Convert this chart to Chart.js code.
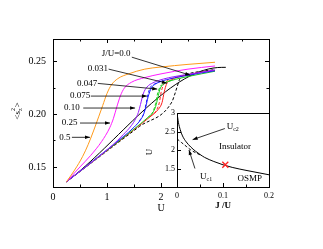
<!DOCTYPE html>
<html><head><meta charset="utf-8">
<script src="https://cdn.jsdelivr.net/npm/chart.js@4"></script>
<style>
html,body{margin:0;padding:0;background:#fff;}
#wrap{position:relative;width:323px;height:249px;overflow:hidden;}
#main{position:absolute;left:0;top:0;}
#inset{position:absolute;left:140px;top:100px;}
</style></head><body>
<div id="wrap"><canvas id="main" width="323" height="249"></canvas><canvas id="inset" width="140" height="120"></canvas></div>
<script>
// ---------- main panel data: U vs <s_z^2> ----------
const uBlack = [0.25, 3.05, 3.2];
const sBlack = [0.136, 0.244, 0.2442];
const uJ0 = [0.25, 1.0, 1.6, 2.2, 2.25, 2.3, 2.35, 2.45, 2.6, 2.8, 3.0];
const sJ0 = [0.136, 0.1650, 0.1882, 0.2113, 0.218, 0.226, 0.2335, 0.2372, 0.2392, 0.2408, 0.242];
const uRed = [0.25, 1.0, 1.5, 1.8, 1.95, 2.02, 2.06, 2.1, 2.2, 2.4, 2.7, 3.0];
const sRed = [0.136, 0.1655, 0.1853, 0.1975, 0.2045, 0.211, 0.221, 0.228, 0.2325, 0.236, 0.2392, 0.2412];
const uRedD = [1.8, 1.92, 1.97, 2.0, 2.04, 2.1, 2.2, 2.4];
const sRedD = [0.1975, 0.204, 0.211, 0.22, 0.227, 0.231, 0.2335, 0.2365];
const uGreen = [0.25, 1.0, 1.5, 1.75, 1.85, 1.9, 1.94, 1.98, 2.05, 2.2, 2.5, 3.0];
const sGreen = [0.136, 0.1657, 0.1858, 0.1965, 0.2015, 0.207, 0.215, 0.2235, 0.2285, 0.2318, 0.2355, 0.2405];
const uGreenD = [1.75, 1.85, 1.9, 1.93, 1.98, 2.05, 2.2];
const sGreenD = [0.1965, 0.202, 0.21, 0.218, 0.2255, 0.229, 0.232];
const uBlue = [0.25, 1.0, 1.3, 1.5, 1.62, 1.68, 1.72, 1.76, 1.82, 1.9, 2.1, 2.4, 2.7, 3.0];
const sBlue = [0.136, 0.1662, 0.1785, 0.1875, 0.1945, 0.2, 0.207, 0.216, 0.2245, 0.2285, 0.2325, 0.2358, 0.2385, 0.241];
const uBlueD = [1.6, 1.68, 1.72, 1.76, 1.8, 1.88, 2.0];
const sBlueD = [0.1935, 0.2005, 0.209, 0.219, 0.225, 0.2285, 0.231];
const uPurple = [0.25, 0.8, 1.1, 1.3, 1.45, 1.53, 1.58, 1.62, 1.67, 1.74, 1.85, 2.05, 2.4, 2.7, 3.0];
const sPurple = [0.136, 0.1578, 0.1705, 0.1805, 0.189, 0.1955, 0.2015, 0.209, 0.219, 0.2255, 0.2295, 0.2332, 0.2368, 0.2392, 0.2418];
const uMagenta = [0.25, 0.5, 0.7, 0.9, 1.05, 1.12, 1.18, 1.25, 1.32, 1.45, 1.7, 2.0, 2.5, 3.0];
const sMagenta = [0.136, 0.150, 0.161, 0.174, 0.187, 0.196, 0.2065, 0.2175, 0.2245, 0.230, 0.2345, 0.238, 0.2425, 0.2455];
const uOrange = [0.25, 0.4, 0.55, 0.65, 0.75, 0.85, 0.92, 1.0, 1.08, 1.2, 1.4, 1.7, 2.0, 2.5, 3.0];
const sOrange = [0.136, 0.147, 0.160, 0.171, 0.184, 0.198, 0.208, 0.2195, 0.2275, 0.2335, 0.238, 0.2425, 0.2445, 0.247, 0.249];

const xTickVals = [0, 0.5, 1, 1.5, 2, 2.5, 3, 3.5, 4];
const xTickLabels = ['0', '', '1', '', '2', '', '', '', ''];
const yTickVals = [0.15, 0.175, 0.2, 0.225, 0.25];
const yTickLabels = ['0.15', '', '0.20', '', '0.25'];

// annotation labels (J/U values) and arrows, in data coordinates
const jLabels = ['J/U=0.0', '0.031', '0.047', '0.075', '0.10', '0.25', '0.5'];
const labelU = [1.17, 0.83, 0.63, 0.50, 0.35, 0.31, 0.22];
const labelS = [0.2575, 0.2425, 0.229, 0.217, 0.2057, 0.1915, 0.178];
const arrFromU = [1.46, 1.03, 0.83, 0.70, 0.56, 0.50, 0.35];
const arrFromS = [0.2538, 0.2425, 0.229, 0.217, 0.2057, 0.1915, 0.178];
const arrToU = [2.54, 2.11, 1.93, 1.74, 1.52, 1.056, 0.685];
const arrToS = [0.2368, 0.2292, 0.2236, 0.217, 0.2057, 0.1915, 0.178];

// ---------- inset data: phase diagram ----------
const jUc2 = [0, 0.003, 0.007, 0.012, 0.02, 0.03, 0.04, 0.05, 0.06, 0.08, 0.10, 0.12, 0.15, 0.2];
const uUc2 = [3.0, 2.75, 2.55, 2.38, 2.22, 2.08, 1.97, 1.88, 1.8, 1.69, 1.6, 1.53, 1.45, 1.33];
const jUc1 = [0, 0.01, 0.02, 0.03, 0.04, 0.05];
const uUc1 = [2.3, 2.2, 2.1, 2.0, 1.93, 1.87];
const jCross = [0.105];
const uCross = [1.6];
const insetXTicks = [0, 0.05, 0.1, 0.15, 0.2];
const insetXLabels = ['0', '', '0.1', '', '0.2'];
const insetYTicks = [1, 1.5, 2, 2.5, 3];
const insetYLabels = ['', '1.5', '2', '2.5', '3'];

const FONT = "'Liberation Serif', 'Times New Roman', serif";
Chart.defaults.font.family = FONT;
Chart.defaults.color = '#000';

const pts = (xs, ys) => xs.map((x, i) => ({x: x, y: ys[i]}));
const ser = (xs, ys, color, dash, w) => ({
  data: pts(xs, ys), borderColor: color, borderWidth: w || 1, borderDash: dash || [],
  pointRadius: 0, fill: false, cubicInterpolationMode: 'monotone'
});

function arrow(ctx, x1, y1, x2, y2) {
  ctx.beginPath(); ctx.moveTo(x1, y1); ctx.lineTo(x2, y2); ctx.stroke();
  const a = Math.atan2(y2 - y1, x2 - x1), L = 5, W = 1.8;
  ctx.beginPath();
  ctx.moveTo(x2, y2);
  ctx.lineTo(x2 - L * Math.cos(a) + W * Math.sin(a), y2 - L * Math.sin(a) - W * Math.cos(a));
  ctx.lineTo(x2 - L * Math.cos(a) - W * Math.sin(a), y2 - L * Math.sin(a) + W * Math.cos(a));
  ctx.closePath(); ctx.fill();
}

function frameTicks(chart, xs, ys, sides, majX, majY) {
  const ctx = chart.ctx, a = chart.chartArea, sx = chart.scales.x, sy = chart.scales.y;
  ctx.save();
  ctx.strokeStyle = '#000'; ctx.lineWidth = 1;
  ctx.strokeRect(Math.round(a.left) + 0.5, Math.round(a.top) + 0.5, Math.round(a.right - a.left) - 1 + 1, Math.round(a.bottom - a.top));
  ctx.beginPath();
  xs.forEach(v => {
    const p = Math.round(sx.getPixelForValue(v)) + 0.5;
    const len = majX(v) ? 4 : 2.5;
    if (sides.bottom) { ctx.moveTo(p, a.bottom); ctx.lineTo(p, a.bottom - len); }
    if (sides.top) { ctx.moveTo(p, a.top); ctx.lineTo(p, a.top + len); }
  });
  ys.forEach(v => {
    const p = Math.round(sy.getPixelForValue(v)) + 0.5;
    const len = majY(v) ? 4 : 2.5;
    if (sides.left) { ctx.moveTo(a.left, p); ctx.lineTo(a.left + len, p); }
    if (sides.right) { ctx.moveTo(a.right, p); ctx.lineTo(a.right - len, p); }
  });
  ctx.stroke();
  ctx.restore();
}

const mainPlugin = {
  id: 'mainDeco',
  afterDraw(chart) {
    const ctx = chart.ctx, sx = chart.scales.x, sy = chart.scales.y, a = chart.chartArea;
    frameTicks(chart, xTickVals, yTickVals, {bottom: true, top: true, left: true, right: true},
      v => Number.isInteger(v), v => Math.abs(v * 20 - Math.round(v * 20)) < 1e-6);
    ctx.save();
    ctx.fillStyle = '#000'; ctx.strokeStyle = '#000'; ctx.lineWidth = 0.8;
    ctx.font = '9px ' + FONT; ctx.textAlign = 'center'; ctx.textBaseline = 'middle';
    jLabels.forEach((t, i) => {
      ctx.fillText(t, sx.getPixelForValue(labelU[i]), sy.getPixelForValue(labelS[i]));
      arrow(ctx, sx.getPixelForValue(arrFromU[i]), sy.getPixelForValue(arrFromS[i]),
        sx.getPixelForValue(arrToU[i]), sy.getPixelForValue(arrToS[i]));
    });
    // x title
    ctx.font = '10px ' + FONT;
    ctx.fillText('U', (a.left + a.right) / 2, a.bottom + 21);
    // y title <s_z^2>
    ctx.translate(17, (a.top + a.bottom) / 2 - 2);
    ctx.rotate(-Math.PI / 2);
    ctx.textAlign = 'left'; ctx.textBaseline = 'alphabetic';
    ctx.font = '9px ' + FONT;
    const w1 = ctx.measureText('<s').width;
    ctx.font = '6px ' + FONT;
    const w2 = ctx.measureText('z').width;
    ctx.font = '9px ' + FONT;
    const w3 = ctx.measureText('>').width;
    let cx = -(w1 + w2 + w3 + 1) / 2;
    ctx.fillText('<s', cx, 3); cx += w1;
    ctx.font = '6px ' + FONT;
    ctx.fillText('z', cx, 5); ctx.fillText('2', cx, -2); cx += w2 + 1;
    ctx.font = '9px ' + FONT;
    ctx.fillText('>', cx, 3);
    ctx.restore();
  }
};

new Chart(document.getElementById('main'), {
  type: 'line',
  data: {
    datasets: [
      ser(uOrange, sOrange, '#ff9a1a'),
      ser(uMagenta, sMagenta, '#ff1aff'),
      ser(uPurple, sPurple, '#9a1aff'),
      ser(uBlue, sBlue, '#1a1aff'),
      ser(uBlueD, sBlueD, '#1a1aff', [3, 2]),
      ser(uGreen, sGreen, '#1acc1a'),
      ser(uGreenD, sGreenD, '#1acc1a', [3, 2]),
      ser(uRed, sRed, '#ff1a1a'),
      ser(uRedD, sRedD, '#ff1a1a', [3, 2]),
      ser(uJ0, sJ0, '#000', [3, 2]),
      ser(uBlack, sBlack, '#000')
    ]
  },
  options: {
    responsive: false, animation: false, devicePixelRatio: 1,
    layout: {padding: {left: 0, top: 39, right: 54, bottom: 30}},
    plugins: {legend: {display: false}, tooltip: {enabled: false}},
    scales: {
      x: {
        type: 'linear', min: 0, max: 4,
        grid: {display: false, drawTicks: false}, border: {display: false},
        afterBuildTicks: s => { s.ticks = xTickVals.map(v => ({value: v})); },
        afterFit: s => { s.height = 32; },
        ticks: {padding: 4, autoSkip: false, maxRotation: 0, font: {size: 10},
          callback: (v, i) => xTickLabels[i]}
      },
      y: {
        type: 'linear', min: 0.131, max: 0.271,
        grid: {display: false, drawTicks: false}, border: {display: false},
        afterBuildTicks: s => { s.ticks = yTickVals.map(v => ({value: v})); },
        afterFit: s => { s.width = 53; },
        ticks: {padding: 7, autoSkip: false, font: {size: 10},
          callback: (v, i) => yTickLabels[i]}
      }
    }
  },
  plugins: [mainPlugin]
});

// ---------- inset ----------
const insetPlugin = {
  id: 'insetDeco',
  beforeDraw(chart) {
    const ctx = chart.ctx, a = chart.chartArea;
    ctx.save(); ctx.fillStyle = '#fff';
    ctx.fillRect(a.left, a.top, a.right - a.left, a.bottom - a.top);
    ctx.restore();
  },
  afterDraw(chart) {
    const ctx = chart.ctx, sx = chart.scales.x, sy = chart.scales.y, a = chart.chartArea;
    frameTicks(chart, insetXTicks, insetYTicks, {bottom: true, left: true},
      v => Math.abs(v * 10 - Math.round(v * 10)) < 1e-6, v => true);
    ctx.save();
    ctx.fillStyle = '#000'; ctx.strokeStyle = '#000'; ctx.lineWidth = 0.8;
    const X = v => sx.getPixelForValue(v), Y = v => sy.getPixelForValue(v);
    // red cross
    ctx.strokeStyle = '#ff2020'; ctx.lineWidth = 1.3;
    jCross.forEach((j, i) => {
      const px = X(j), py = Y(uCross[i]);
      ctx.beginPath(); ctx.moveTo(px - 3, py - 3); ctx.lineTo(px + 3, py + 3);
      ctx.moveTo(px + 3, py - 3); ctx.lineTo(px - 3, py + 3); ctx.stroke();
    });
    ctx.strokeStyle = '#000'; ctx.lineWidth = 0.8;
    ctx.textBaseline = 'middle'; ctx.textAlign = 'left';
    function sub(main, s, x, y) {
      ctx.font = '9px ' + FONT;
      const w = ctx.measureText(main).width;
      ctx.fillText(main, x, y);
      ctx.font = '6px ' + FONT;
      ctx.fillText(s, x + w, y + 3);
    }
    sub('U', 'c2', X(0.108), Y(2.64));
    arrow(ctx, X(0.104), Y(2.58), X(0.034), Y(2.28));
    sub('U', 'c1', X(0.05), Y(1.28));
    arrow(ctx, X(0.039), Y(1.5), X(0.026), Y(2.0));
    ctx.font = '9px ' + FONT; ctx.textAlign = 'center';
    ctx.fillText('Insulator', X(0.126), Y(2.08));
    ctx.fillText('OSMP', X(0.158), Y(1.22));
    ctx.font = 'bold 9px ' + FONT;
    ctx.fillText('J /U', (a.left + a.right) / 2, a.bottom + 19);
    ctx.font = '9px ' + FONT;
    ctx.translate(a.left - 27, (a.top + a.bottom) / 2 + 2);
    ctx.rotate(-Math.PI / 2);
    ctx.fillText('U', 0, 0);
    ctx.restore();
  }
};

new Chart(document.getElementById('inset'), {
  type: 'line',
  data: {
    datasets: [
      ser(jUc2, uUc2, '#000', [], 1),
      ser(jUc1, uUc1, '#000', [3, 2], 1)
    ]
  },
  options: {
    responsive: false, animation: false, devicePixelRatio: 1,
    layout: {padding: {left: 0, top: 13, right: 11, bottom: 13}},
    plugins: {legend: {display: false}, tooltip: {enabled: false}},
    scales: {
      x: {
        type: 'linear', min: 0, max: 0.2,
        grid: {display: false, drawTicks: false}, border: {display: false},
        afterBuildTicks: s => { s.ticks = insetXTicks.map(v => ({value: v})); },
        afterFit: s => { s.height = 20; },
        ticks: {padding: 4, autoSkip: false, maxRotation: 0, font: {size: 8},
          callback: (v, i) => insetXLabels[i]}
      },
      y: {
        type: 'linear', min: 1, max: 3,
        grid: {display: false, drawTicks: false}, border: {display: false},
        afterBuildTicks: s => { s.ticks = insetYTicks.map(v => ({value: v})); },
        afterFit: s => { s.width = 37; },
        ticks: {padding: 2, autoSkip: false, font: {size: 8},
          callback: (v, i) => insetYLabels[i]}
      }
    }
  },
  plugins: [insetPlugin]
});
</script>
</body></html>
